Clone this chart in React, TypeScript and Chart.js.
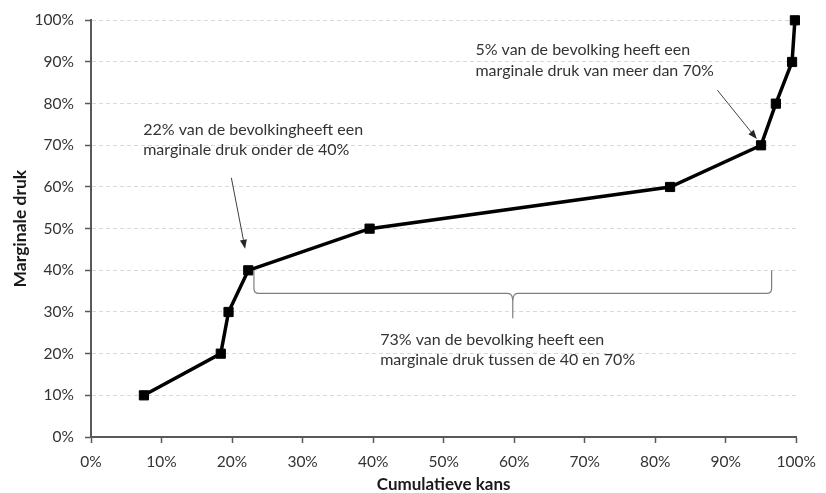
import React, { useEffect, useRef } from "react";
import { Chart, registerables } from "chart.js";

Chart.register(...registerables);

// Data (percentages)
const cumulativeShare = [7.5, 18.4, 19.5, 22.3, 39.5, 82.1, 95.0, 97.1, 99.4, 99.8];
const marginalPressure = [10, 20, 30, 40, 50, 60, 70, 80, 90, 100];
const xTickValues = [0, 10, 20, 30, 40, 50, 60, 70, 80, 90, 100];
const yTickValues = [0, 10, 20, 30, 40, 50, 60, 70, 80, 90, 100];
const xAxisTitle = "Cumulatieve kans";
const yAxisTitle = "Marginale druk";

// Annotation texts (anchors in data units)
const note1Lines = ["22% van de bevolkingheeft een", "marginale druk onder de 40%"];
const note2Lines = ["5% van de bevolking heeft een", "marginale druk van meer dan 70%"];
const note3Lines = ["73% van de bevolking heeft een", "marginale druk tussen de 40 en 70%"];

const notes = [
  { lines: note1Lines, x: 7.4, ys: [73.7, 69.0], arrow: { x1: 19.9, y1: 62.2, x2: 21.85, y2: 45.2 } },
  { lines: note2Lines, x: 54.5, ys: [92.9, 87.8], arrow: { x1: 88.8, y1: 83.25, x2: 94.4, y2: 71.5 } },
  { lines: note3Lines, x: 41.0, ys: [23.3, 18.4], arrow: null },
];
const brace = { x1: 23.1, x2: 96.5, yTop: 40, yMid: 34.45, xTip: 59.8, yTip: 28.5 };

const FONT = "Lato, 'Open Sans', sans-serif";

const annotationPlugin = {
  id: "annotations",
  afterDatasetsDraw(chart: any) {
    const { ctx } = chart;
    const xs = chart.scales.x;
    const ys = chart.scales.y;
    const px = (v: number) => xs.getPixelForValue(v);
    const py = (v: number) => ys.getPixelForValue(v);
    ctx.save();
    ctx.font = `16px ${FONT}`;
    ctx.fillStyle = "#333333";
    ctx.textAlign = "left";
    ctx.textBaseline = "middle";
    for (const n of notes) {
      n.lines.forEach((t, i) => ctx.fillText(t, px(n.x), py(n.ys[i])));
      if (n.arrow) {
        const ax1 = px(n.arrow.x1), ay1 = py(n.arrow.y1);
        const ax2 = px(n.arrow.x2), ay2 = py(n.arrow.y2);
        const ang = Math.atan2(ay2 - ay1, ax2 - ax1);
        const len = 9, half = 3.5;
        const bx = ax2 - len * Math.cos(ang), by = ay2 - len * Math.sin(ang);
        ctx.strokeStyle = "#404040";
        ctx.lineWidth = 1;
        ctx.beginPath();
        ctx.moveTo(ax1, ay1);
        ctx.lineTo(bx, by);
        ctx.stroke();
        ctx.beginPath();
        ctx.moveTo(ax2, ay2);
        ctx.lineTo(bx + half * Math.sin(ang), by - half * Math.cos(ang));
        ctx.lineTo(bx - half * Math.sin(ang), by + half * Math.cos(ang));
        ctx.closePath();
        ctx.fillStyle = "#262626";
        ctx.fill();
        ctx.fillStyle = "#333333";
      }
    }
    // curly brace
    const bx1 = px(brace.x1), bx2 = px(brace.x2), yT = py(brace.yTop), yM = py(brace.yMid);
    const xt = px(brace.xTip), yt = py(brace.yTip);
    const r = 5;
    ctx.strokeStyle = "#7f7f7f";
    ctx.lineWidth = 1.2;
    ctx.beginPath();
    ctx.moveTo(bx1, yT);
    ctx.lineTo(bx1, yM - r);
    ctx.quadraticCurveTo(bx1, yM, bx1 + r, yM);
    ctx.lineTo(xt - r, yM);
    ctx.quadraticCurveTo(xt, yM, xt, yM + r + 3);
    ctx.lineTo(xt, yt);
    ctx.moveTo(xt, yM + r + 3);
    ctx.quadraticCurveTo(xt, yM, xt + r, yM);
    ctx.lineTo(bx2 - r, yM);
    ctx.quadraticCurveTo(bx2, yM, bx2, yM - r);
    ctx.lineTo(bx2, yT);
    ctx.stroke();
    ctx.restore();
  },
};

export default function App() {
  const ref = useRef<HTMLCanvasElement>(null);
  useEffect(() => {
    if (!ref.current) return;
    const pct = (v: any) => `${v}%`;
    const chart = new Chart(ref.current, {
      type: "line",
      data: {
        datasets: [
          {
            data: cumulativeShare.map((x, i) => ({ x, y: marginalPressure[i] })),
            borderColor: "#000000",
            backgroundColor: "#000000",
            borderWidth: 3.5,
            tension: 0,
            clip: false,
            pointStyle: "rect",
            pointRadius: 6.5,
            pointBorderWidth: 1,
            pointBackgroundColor: "#000000",
            pointBorderColor: "#000000",
          },
        ],
      },
      options: {
        responsive: false,
        animation: false,
        devicePixelRatio: 1,
        layout: { padding: { top: 19, right: 21, bottom: 0, left: 0 } },
        plugins: { legend: { display: false }, tooltip: { enabled: false } },
        scales: {
          x: {
            type: "linear",
            min: 0,
            max: 100,
            afterFit: (s: any) => { s.height = 56; },
            afterBuildTicks: (s: any) => { s.ticks = xTickValues.map((v) => ({ value: v })); },
            ticks: { callback: pct, color: "#333333", font: { family: FONT, size: 15.5 }, padding: 10, maxRotation: 0, autoSkip: false },
            grid: { drawOnChartArea: false, drawTicks: true, tickLength: 6, tickColor: "#595959", tickWidth: 1.5 },
            border: { color: "#595959", width: 2 },
            title: { display: true, text: xAxisTitle, color: "#1a1a1a", font: { family: FONT, size: 17, weight: "bold", lineHeight: 1 }, padding: { top: 0, bottom: 0 } },
          },
          y: {
            type: "linear",
            min: 0,
            max: 100,
            afterFit: (s: any) => { s.width = 91; },
            afterBuildTicks: (s: any) => { s.ticks = yTickValues.map((v) => ({ value: v })); },
            ticks: { callback: pct, color: "#333333", font: { family: FONT, size: 15.5 }, padding: 11 },
            grid: { color: "#d9d9d9", lineWidth: 1, drawTicks: true, tickLength: 6, tickColor: "#595959", tickWidth: 1.5 },
            border: { color: "#595959", width: 2, dash: [4, 3] },
            title: { display: true, text: yAxisTitle, color: "#1a1a1a", font: { family: FONT, size: 17.5, weight: "bold", lineHeight: 1 }, padding: { top: 11.5, bottom: 0 } },
          },
        },
      },
      plugins: [annotationPlugin],
    } as any);
    return () => chart.destroy();
  }, []);
  return (
    <div style={{ position: "fixed", left: 0, top: 0, width: 826, height: 493, background: "#ffffff" }}>
      <canvas ref={ref} width={826} height={493} style={{ display: "block" }} />
    </div>
  );
}
